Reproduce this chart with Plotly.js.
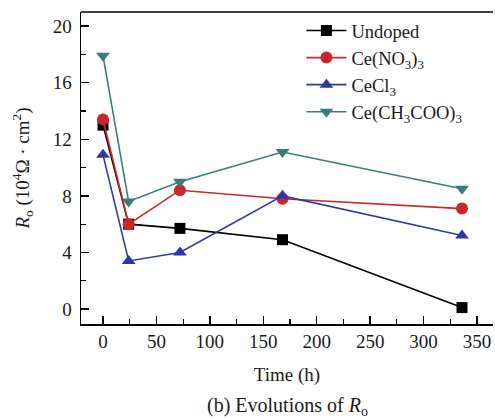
<!DOCTYPE html>
<html>
<head>
<meta charset="utf-8">
<script src="https://cdn.plot.ly/plotly-3.0.1.min.js"></script>
<style>html,body{margin:0;padding:0;background:#fff;}#chart{width:495px;height:420px;}</style>
</head>
<body>
<div id="chart"></div>
<script>
const time = [0, 24, 72, 168, 336];
const undoped = [13.0, 6.0, 5.7, 4.9, 0.1];
const ceNO3 = [13.4, 6.0, 8.4, 7.8, 7.1];
const ceCl3 = [10.9, 3.4, 4.0, 8.0, 5.2];
const ceAc = [17.9, 7.6, 9.0, 11.1, 8.5];
const seriesNames = ['Undoped', 'Ce(NO<sub>3</sub>)<sub>3</sub>', 'CeCl<sub>3</sub>', 'Ce(CH<sub>3</sub>COO)<sub>3</sub>'];
const xTicks = [0, 50, 100, 150, 200, 250, 300, 350];
const yTicks = [0, 4, 8, 12, 16, 20];

const colors = ['#000000', '#c8282c', '#2f36a6', '#3a7d78'];
const symbols = ['square', 'circle', 'triangle-up', 'triangle-down'];
const sizes = [11, 12, 12, 12];
const data = [undoped, ceNO3, ceCl3, ceAc];

const traces = data.map((ys, i) => ({
  x: time, y: ys, name: seriesNames[i], type: 'scatter', mode: 'lines+markers',
  line: {color: colors[i], width: 1.6},
  marker: {symbol: symbols[i], size: sizes[i], color: colors[i]}
}));

const fam = 'Liberation Serif, Times New Roman, serif';
const txt = '#1a1a1a';

const layout = {
  width: 495, height: 420,
  margin: {l: 81, r: 2, t: 12, b: 96},
  paper_bgcolor: '#fff', plot_bgcolor: '#fff',
  font: {family: fam, color: txt, size: 19},
  showlegend: true,
  legend: {x: 0.535, y: 1.0, xanchor: 'left', yanchor: 'top', bgcolor: 'rgba(0,0,0,0)',
    font: {family: fam, size: 18.5, color: txt}, tracegroupgap: 0, itemwidth: 40},
  xaxis: {
    range: [-20.6, 365], tickvals: xTicks, ticktext: xTicks.map(String),
    ticks: 'inside', ticklen: 8, tickwidth: 1.3, tickcolor: '#000',
    showline: true, linecolor: '#000', linewidth: 1.5, showgrid: false, zeroline: false,
    minor: {dtick: 25, tick0: 25, ticks: 'inside', ticklen: 5, tickcolor: '#000', tickwidth: 1.2, showgrid: false},
    tickfont: {family: fam, size: 19, color: txt},
    title: {text: 'Time (h)', font: {family: fam, size: 19, color: txt}, standoff: 16}
  },
  yaxis: {
    range: [-1.06, 21], tickvals: yTicks, ticktext: yTicks.map(String),
    ticks: 'inside', ticklen: 8, tickwidth: 1.3, tickcolor: '#000',
    showline: true, linecolor: '#000', linewidth: 1.5, showgrid: false, zeroline: false,
    minor: {dtick: 2, tick0: 2, ticks: 'inside', ticklen: 5, tickcolor: '#000', tickwidth: 1.2, showgrid: false},
    tickfont: {family: fam, size: 19, color: txt},
    ticklabelstandoff: 4,
    title: {text: '<i>R</i><sub>o</sub> (10<sup>4</sup>Ω · cm<sup>2</sup>)', font: {family: fam, size: 19, color: txt}, standoff: 18}
  },
  shapes: [{type: 'line', xref: 'paper', yref: 'paper', x0: 0, x1: 1, y0: 1, y1: 1, line: {color: '#000', width: 1.5}}],
  annotations: [{
    text: '(b) Evolutions of <i>R</i><sub>o</sub>', xref: 'paper', yref: 'paper',
    x: 0.5, y: -0.265, xanchor: 'center', yanchor: 'middle', showarrow: false,
    font: {family: fam, size: 20, color: txt}
  }]
};

Plotly.newPlot('chart', traces, layout, {displayModeBar: false, staticPlot: true});
</script>
</body>
</html>
